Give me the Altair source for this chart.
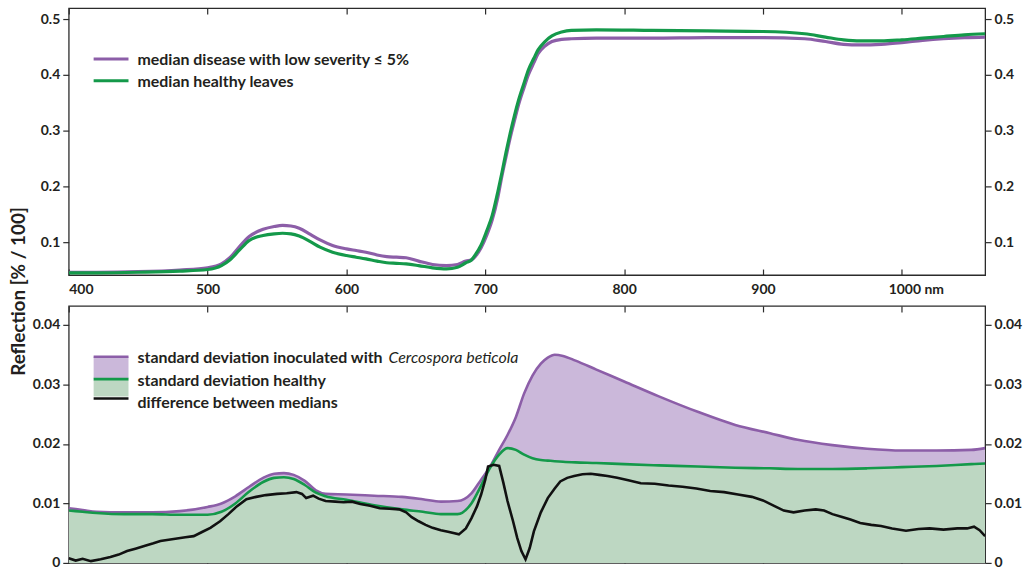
import altair as alt
import pandas as pd

# ---- spectra: median reflectance (upper panel) ----
wl_top = [400, 420, 450, 480, 500, 510, 516, 523, 530, 540, 548, 554, 560, 566,
          574, 581, 590, 600, 607, 614, 622, 629, 636, 643, 652, 662, 672, 680,
          686, 690, 693, 697, 701, 705, 709, 712, 715, 718, 721, 724, 728, 731,
          735, 738, 743, 748, 755, 762, 780, 820, 860, 900, 930, 945, 958, 970,
          985, 1000, 1015, 1030, 1045, 1060]
median_healthy = [0.045, 0.045, 0.046, 0.048, 0.051, 0.058, 0.068, 0.086, 0.103, 0.112,
                  0.115, 0.116, 0.115, 0.111, 0.101, 0.091, 0.082, 0.076, 0.073, 0.070,
                  0.066, 0.063, 0.062, 0.061, 0.058, 0.054, 0.052, 0.055, 0.063, 0.068,
                  0.078, 0.095, 0.120, 0.148, 0.190, 0.225, 0.262, 0.296, 0.327, 0.355,
                  0.386, 0.409, 0.430, 0.445, 0.460, 0.470, 0.477, 0.480, 0.481, 0.480,
                  0.479, 0.478, 0.474, 0.468, 0.463, 0.461, 0.461, 0.463, 0.466, 0.469,
                  0.472, 0.474]
median_disease = [0.046, 0.046, 0.047, 0.050, 0.054, 0.061, 0.072, 0.092, 0.110, 0.123,
                  0.128, 0.130, 0.129, 0.125, 0.114, 0.104, 0.094, 0.088, 0.085, 0.082,
                  0.077, 0.074, 0.073, 0.072, 0.066, 0.060, 0.058, 0.060, 0.066, 0.068,
                  0.075, 0.090, 0.112, 0.140, 0.180, 0.219, 0.254, 0.288, 0.318, 0.347,
                  0.378, 0.400, 0.422, 0.438, 0.452, 0.460, 0.464, 0.465, 0.466, 0.466,
                  0.467, 0.467, 0.465, 0.460, 0.455, 0.454, 0.455, 0.458, 0.462, 0.465,
                  0.467, 0.468]

# ---- standard deviations (lower panel) ----
wl_sd = [400, 410, 420, 440, 460, 480, 500, 510, 520, 530, 540, 548, 555, 562, 570,
         578, 585, 600, 620, 640, 655, 668, 680, 690, 697, 703, 710, 716, 722, 728,
         734, 740, 745, 750, 756, 765, 780, 800, 825, 853, 880, 905, 925, 950, 975,
         1000, 1025, 1050, 1060]
sd_inoculated = [0.0092, 0.0089, 0.0086, 0.0085, 0.0085, 0.0087, 0.0094, 0.0100, 0.0112,
                 0.0128, 0.0143, 0.0150, 0.0151, 0.0148, 0.0138, 0.0122, 0.0116, 0.0115,
                 0.0113, 0.0111, 0.0107, 0.0103, 0.0104, 0.0117, 0.0140, 0.0160, 0.0190,
                 0.0215, 0.0245, 0.0285, 0.0315, 0.0335, 0.0345, 0.0350, 0.0348, 0.0340,
                 0.0325, 0.0305, 0.0280, 0.0254, 0.0232, 0.0218, 0.0207, 0.0198, 0.0192,
                 0.0189, 0.0189, 0.0190, 0.0193]
sd_healthy = [0.0088, 0.0086, 0.0084, 0.0082, 0.0082, 0.0081, 0.0081, 0.0086, 0.0100,
              0.0120, 0.0136, 0.0143, 0.0144, 0.0141, 0.0131, 0.0118, 0.0112, 0.0106,
              0.0097, 0.0090, 0.0086, 0.0082, 0.0082, 0.0100, 0.0130, 0.0158, 0.0182,
              0.0193, 0.0190, 0.0182, 0.0176, 0.0173, 0.0172, 0.0171, 0.0170, 0.0169,
              0.0168, 0.0166, 0.0164, 0.0162, 0.0160, 0.0159, 0.0158, 0.0158, 0.0159,
              0.0161, 0.0163, 0.0166, 0.0167]

# ---- difference between the two medians ----
wl_diff = [400, 405, 410, 416, 423, 430, 436, 442, 448, 455, 461, 466, 472, 478, 484,
           490, 496, 502, 509, 515, 521, 528, 535, 542, 550, 557, 564, 568, 571, 576,
           580, 585, 592, 598, 604, 610, 617, 624, 631, 638, 643, 647, 652, 657, 662,
           668, 674, 681, 686, 690, 694, 697, 700, 702, 706, 710, 713, 716, 720, 723,
           726, 729, 732, 735, 740, 745, 750, 754, 759, 764, 770, 776, 782, 788, 795,
           803, 812, 822, 832, 842, 852, 862, 872, 882, 892, 900, 908, 915, 922, 930,
           938, 944, 950, 957, 963, 970, 978, 985, 993, 1003, 1012, 1020, 1030, 1040,
           1047, 1052, 1056, 1060]
diff_medians = [0.0008, 0.0004, 0.0007, 0.0003, 0.0006, 0.0010, 0.0014, 0.0020, 0.0024,
                0.0029, 0.0033, 0.0037, 0.0039, 0.0041, 0.0043, 0.0045, 0.0052, 0.0059,
                0.0070, 0.0082, 0.0095, 0.0107, 0.0111, 0.0114, 0.0116, 0.0117, 0.0119,
                0.0116, 0.0109, 0.0113, 0.0108, 0.0104, 0.0103, 0.0102, 0.0103, 0.0099,
                0.0096, 0.0092, 0.0091, 0.0090, 0.0085, 0.0077, 0.0070, 0.0064, 0.0059,
                0.0055, 0.0052, 0.0048, 0.0058, 0.0075, 0.0095, 0.0115, 0.0140, 0.0162,
                0.0165, 0.0163, 0.0135, 0.0104, 0.0070, 0.0042, 0.0020, 0.0006, 0.0025,
                0.0053, 0.0085, 0.0109, 0.0125, 0.0137, 0.0143, 0.0146, 0.0149, 0.0150,
                0.0148, 0.0146, 0.0143, 0.0139, 0.0134, 0.0133, 0.0130, 0.0128, 0.0125,
                0.0121, 0.0119, 0.0115, 0.0111, 0.0105, 0.0096, 0.0088, 0.0085, 0.0088,
                0.0090, 0.0088, 0.0082, 0.0077, 0.0073, 0.0067, 0.0064, 0.0062, 0.0058,
                0.0054, 0.0057, 0.0058, 0.0056, 0.0058, 0.0058, 0.0061, 0.0055, 0.0045]

x_ticks = [400, 500, 600, 700, 800, 900, 1000]
top_ticks = [0.1, 0.2, 0.3, 0.4, 0.5]
bottom_ticks = [0, 0.01, 0.02, 0.03, 0.04]

top_legend = ["median disease with low severity \u2264 5%", "median healthy leaves"]
bottom_legend = ["standard deviation inoculated with ", "standard deviation healthy",
                 "difference between medians"]
species = "Cercospora beticola"

PURPLE = "#8c5ea8"
PURPLE_FILL = "#cbb8da"
GREEN = "#14994a"
GREEN_FILL = "#bdd7c2"
BLACK = "#111111"
FONT = "Lato"
TXT = "#231f20"
LEG_SIZE = 16

W = 920
H_TOP = 268
H_BOT = 258

top_df = pd.DataFrame({"wl": wl_top, "healthy": median_healthy, "disease": median_disease})
sd_df = pd.DataFrame({"wl": wl_sd, "inoc": sd_inoculated, "healthy": sd_healthy})
diff_df = pd.DataFrame({"wl": wl_diff, "diff": diff_medians})

xscale = alt.Scale(domain=[400, 1060], nice=False, zero=False)
yscale_top = alt.Scale(domain=[0.041, 0.52], nice=False, zero=False)
yscale_bot = alt.Scale(domain=[0, 0.0432], nice=False, zero=False)

label_shift = {"condition": {"test": "datum.value == 1000", "value": 14}, "value": 0}


def x_axis_bottom(labels):
    return alt.Axis(orient="bottom", values=x_ticks, title=None, offset=-6, tickSize=6,
                    labels=labels, labelPadding=8, labelOffset=label_shift,
                    labelExpr="datum.value == 1000 ? '1000 nm' : datum.label")


x_axis_top = alt.Axis(orient="top", values=x_ticks, title=None, offset=-6, tickSize=6,
                      labels=False)


def y_axis(values, fmt, orient, title=None):
    kw = dict(orient=orient, values=values, format=fmt, tickSize=6, labelPadding=3,
              title=title)
    if title:
        kw.update(titleX=-50, titleY=284, titleAngle=-90, titleAlign="center",
                  titleBaseline="middle", titleFont=FONT, titleFontSize=19,
                  titleFontWeight="bold", titleColor=TXT)
    return alt.Axis(**kw)


# ---------------- upper panel ----------------
line_disease = alt.Chart(top_df).mark_line(color=PURPLE, strokeWidth=3.2,
                                           interpolate="monotone", clip=True).encode(
    x=alt.X("wl:Q", scale=xscale, axis=x_axis_bottom(True)),
    y=alt.Y("disease:Q", scale=yscale_top,
            axis=y_axis(top_ticks, ".1f", "left", "Reflection [% / 100]")),
)
line_healthy = alt.Chart(top_df).mark_line(color=GREEN, strokeWidth=3.2,
                                           interpolate="monotone", clip=True).encode(
    x=alt.X("wl:Q", scale=xscale, axis=x_axis_top),
    y=alt.Y("healthy:Q", scale=yscale_top, axis=y_axis(top_ticks, ".1f", "right")),
)

leg_top_df = pd.DataFrame({"label": top_legend, "col": [PURPLE, GREEN], "ypos": [51, 73],
                           "typos": [52, 74.5]})
leg_top_lines = alt.Chart(leg_top_df).mark_rule(strokeWidth=3).encode(
    x=alt.value(25), x2=alt.value(60), y=alt.Y("ypos:Q", scale=None),
    color=alt.Color("col:N", scale=None),
)
leg_top_text = alt.Chart(leg_top_df).mark_text(
    align="left", baseline="middle", font=FONT, fontSize=LEG_SIZE, fontWeight="bold",
    color=TXT
).encode(x=alt.value(69), y=alt.Y("typos:Q", scale=None), text="label:N")

top = alt.layer(line_disease, line_healthy, leg_top_lines, leg_top_text).resolve_axis(
    x="independent", y="independent"
).properties(width=W, height=H_TOP)

# ---------------- lower panel ----------------
area_inoc = alt.Chart(sd_df).mark_area(color=PURPLE_FILL, interpolate="monotone",
                                       clip=True).encode(
    x=alt.X("wl:Q", scale=xscale, axis=x_axis_bottom(False)),
    y=alt.Y("inoc:Q", scale=yscale_bot, axis=y_axis(bottom_ticks, ".2~f", "left")),
)
area_healthy = alt.Chart(sd_df).mark_area(color=GREEN_FILL, interpolate="monotone",
                                          clip=True).encode(
    x=alt.X("wl:Q", scale=xscale, axis=x_axis_top),
    y=alt.Y("healthy:Q", scale=yscale_bot, axis=y_axis(bottom_ticks, ".2~f", "right")),
)
line_inoc = alt.Chart(sd_df).mark_line(color=PURPLE, strokeWidth=2.6, interpolate="monotone",
                                       clip=True).encode(
    x=alt.X("wl:Q", scale=xscale, axis=None),
    y=alt.Y("inoc:Q", scale=yscale_bot, axis=None),
)
line_sd_healthy = alt.Chart(sd_df).mark_line(color=GREEN, strokeWidth=2.6,
                                             interpolate="monotone", clip=True).encode(
    x=alt.X("wl:Q", scale=xscale, axis=None),
    y=alt.Y("healthy:Q", scale=yscale_bot, axis=None),
)
line_diff = alt.Chart(diff_df).mark_line(color=BLACK, strokeWidth=2.6, clip=True).encode(
    x=alt.X("wl:Q", scale=xscale, axis=None),
    y=alt.Y("diff:Q", scale=yscale_bot, axis=None),
)

swatch_df = pd.DataFrame({"y1": [51, 74], "y2": [73, 91], "col": [PURPLE_FILL, GREEN_FILL]})
leg_swatch = alt.Chart(swatch_df).mark_rect().encode(
    x=alt.value(25), x2=alt.value(60), y=alt.Y("y1:Q", scale=None), y2="y2:Q",
    color=alt.Color("col:N", scale=None),
)
leg_bot_df = pd.DataFrame({"label": bottom_legend, "col": [PURPLE, GREEN, BLACK],
                           "ypos": [51, 73.5, 93], "typos": [52.5, 75, 97.5]})
leg_bot_lines = alt.Chart(leg_bot_df).mark_rule(strokeWidth=2.6).encode(
    x=alt.value(25), x2=alt.value(60), y=alt.Y("ypos:Q", scale=None),
    color=alt.Color("col:N", scale=None),
)
leg_bot_text = alt.Chart(leg_bot_df).mark_text(
    align="left", baseline="middle", font=FONT, fontSize=LEG_SIZE, fontWeight="bold",
    color=TXT
).encode(x=alt.value(69), y=alt.Y("typos:Q", scale=None), text="label:N")
leg_species = alt.Chart(pd.DataFrame({"label": [species]})).mark_text(
    align="left", baseline="middle", font=FONT, fontSize=LEG_SIZE, fontStyle="italic",
    fontWeight="normal", color=TXT
).encode(x=alt.value(321), y=alt.value(52.5), text="label:N")

bottom = alt.layer(area_inoc, area_healthy, line_inoc, line_sd_healthy, line_diff,
                   leg_swatch, leg_bot_lines, leg_bot_text, leg_species).resolve_axis(
    x="independent", y="independent"
).properties(width=W, height=H_BOT)

chart = alt.vconcat(top, bottom, spacing=31, bounds="flush").configure_view(
    stroke="#2b2b2b", strokeWidth=1.3
).configure_axis(
    grid=False, domain=False, labelFont=FONT, labelFontSize=14, labelFontWeight="bold",
    labelColor=TXT, tickColor="#2b2b2b", tickWidth=1.2
).properties(
    padding={"left": 9, "top": 5, "right": 0, "bottom": 0}, background="white"
)

chart.save("out.html", embed_options={"renderer": "svg", "actions": False})
